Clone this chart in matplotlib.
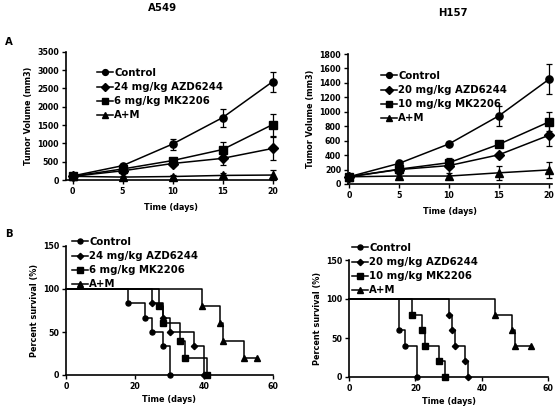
import matplotlib
matplotlib.use("Agg")
import matplotlib.pyplot as plt
from matplotlib.lines import Line2D

plt.rcParams['font.family'] = ['DejaVu Sans']
plt.rcParams['font.weight'] = 'bold'

# ---------------- Data ----------------
days = [0, 5, 10, 15, 20]

# A549 tumor volume
a549_labels = ['Control', '24 mg/kg AZD6244', '6 mg/kg MK2206', 'A+M']
a549_control = [110, 390, 980, 1700, 2680]
a549_control_err = [20, 50, 150, 250, 270]
a549_azd = [100, 250, 450, 590, 860]
a549_azd_err = [15, 30, 60, 180, 320]
a549_mk = [100, 300, 530, 830, 1510]
a549_mk_err = [15, 40, 70, 200, 300]
a549_am = [100, 80, 95, 125, 135]
a549_am_err = [10, 20, 40, 60, 140]

# H157 tumor volume
h157_labels = ['Control', '20 mg/kg AZD6244', '10 mg/kg MK2206', 'A+M']
h157_control = [100, 285, 555, 945, 1450]
h157_control_err = [15, 25, 30, 140, 210]
h157_azd = [100, 200, 255, 405, 675]
h157_azd_err = [10, 20, 30, 30, 150]
h157_mk = [100, 205, 295, 550, 860]
h157_mk_err = [10, 20, 70, 30, 130]
h157_am = [100, 110, 110, 155, 195]
h157_am_err = [10, 30, 40, 95, 110]

# A549 survival (times of drops, survival after drop)
a549_surv_control_t = [0, 18, 23, 25, 28, 30]
a549_surv_control_s = [100, 83.3, 66.7, 50, 33.3, 0]
a549_surv_azd_t = [0, 25, 28, 30, 37, 40]
a549_surv_azd_s = [100, 83.3, 66.7, 50, 33.3, 0]
a549_surv_mk_t = [0, 27, 28, 33, 34.5, 41]
a549_surv_mk_s = [100, 80, 60, 40, 20, 0]
a549_surv_am_t = [0, 39.5, 44.5, 45.5, 51.5, 55.5]
a549_surv_am_s = [100, 80, 60, 40, 20, 20]

# H157 survival
h157_surv_control_t = [0, 15, 17, 20.5]
h157_surv_control_s = [100, 60, 40, 0]
h157_surv_azd_t = [0, 30, 31, 32, 35, 36]
h157_surv_azd_s = [100, 80, 60, 40, 20, 0]
h157_surv_mk_t = [0, 19, 22, 23, 27, 29]
h157_surv_mk_s = [100, 80, 60, 40, 20, 0]
h157_surv_am_t = [0, 44, 49, 50, 55]
h157_surv_am_s = [100, 80, 60, 40, 40]

markers = ['o', 'D', 's', '^']
msizes_top = [5.2, 4.6, 5.2, 5.2]
msizes_surv = [3.6, 3.2, 3.8, 3.8]

FS_TICK = 5.7
FS_LAB = 5.9
FS_LEG = 7.3
LW = 1.1

fig = plt.figure(figsize=(5.58, 4.08), dpi=100)
W, H = 558.0, 408.0


def axes_px(x0, x1, ytop, ybot):
    return fig.add_axes([x0 / W, (H - ybot) / H, (x1 - x0) / W, (ybot - ytop) / H])


def style(ax):
    for s in ['top', 'right']:
        ax.spines[s].set_visible(False)
    for s in ['left', 'bottom']:
        ax.spines[s].set_linewidth(1.2)
    ax.tick_params(direction='out', length=3, width=1.0, labelsize=FS_TICK, pad=2)
    for lab in ax.get_xticklabels() + ax.get_yticklabels():
        lab.set_fontweight('bold')


def legend(ax, labels, ms, x, y):
    handles = [Line2D([0], [0], color='black', lw=LW, marker=m, markersize=s)
               for m, s in zip(markers, ms)]
    ax.legend(handles, labels, loc='upper left', bbox_to_anchor=(x / W, 1 - y / H),
              bbox_transform=fig.transFigure, frameon=False,
              handlelength=1.6, handletextpad=0.12, labelspacing=0.4,
              borderpad=0, borderaxespad=0, prop={'weight': 'bold', 'size': FS_LEG})


def tumor(ax, series, errs, labels, ylim, yticks, xlim):
    for vals, err, m, s in zip(series, errs, markers, msizes_top):
        ax.errorbar(days, vals, yerr=err, color='black', lw=LW, marker=m,
                    markersize=s, capsize=2.5, elinewidth=0.9, capthick=0.9,
                    clip_on=False)
    ax.set_xlim(*xlim)
    ax.set_ylim(*ylim)
    ax.set_yticks(yticks)
    ax.set_xticks(days)
    style(ax)


def survival(ax, ts, ss):
    for t, s, m, ms in zip(ts, ss, markers, msizes_surv):
        ax.step(t, s, where='post', color='black', lw=LW, clip_on=False)
        ax.plot(t[1:], s[1:], linestyle='none', marker=m, markersize=ms,
                color='black', clip_on=False)
    ax.set_xlim(0, 60)
    ax.set_ylim(0, 150)
    ax.set_xticks([0, 20, 40, 60])
    ax.set_yticks([0, 50, 100, 150])
    style(ax)


# Top-left: A549 tumor volume
ax1 = axes_px(66, 276, 51.7, 180)
tumor(ax1, [a549_control, a549_azd, a549_mk, a549_am],
      [a549_control_err, a549_azd_err, a549_mk_err, a549_am_err],
      a549_labels, (0, 3500), range(0, 3501, 500), (-0.65, 20.35))
legend(ax1, a549_labels, [4.2, 3.8, 4.4, 4.4], 97, 68)

# Top-right: H157 tumor volume
ax2 = axes_px(348, 552, 54, 184)
tumor(ax2, [h157_control, h157_azd, h157_mk, h157_am],
      [h157_control_err, h157_azd_err, h157_mk_err, h157_am_err],
      h157_labels, (0, 1800), range(0, 1801, 200), (-0.1, 20.3))
legend(ax2, h157_labels, [4.2, 3.8, 4.4, 4.4], 381, 71)

# Bottom-left: A549 survival
ax3 = axes_px(66, 273, 246, 375)
survival(ax3, [a549_surv_control_t, a549_surv_azd_t, a549_surv_mk_t, a549_surv_am_t],
         [a549_surv_control_s, a549_surv_azd_s, a549_surv_mk_s, a549_surv_am_s])
legend(ax3, a549_labels, [3.6, 3.2, 3.8, 3.8], 72, 237)

# Bottom-right: H157 survival
ax4 = axes_px(349, 548, 260, 377)
survival(ax4, [h157_surv_control_t, h157_surv_azd_t, h157_surv_mk_t, h157_surv_am_t],
         [h157_surv_control_s, h157_surv_azd_s, h157_surv_mk_s, h157_surv_am_s])
legend(ax4, h157_labels, [3.6, 3.2, 3.8, 3.8], 352, 243)

# Axis labels
for ax in (ax1, ax2):
    ax.set_ylabel('Tumor Volume (mm3)', fontsize=FS_LAB, fontweight='bold', labelpad=3)
    ax.set_xlabel('Time (days)', fontsize=FS_LAB, fontweight='bold', labelpad=5)
for ax in (ax3, ax4):
    ax.set_ylabel('Percent survival (%)', fontsize=FS_LAB, fontweight='bold', labelpad=3)
    ax.set_xlabel('Time (days)', fontsize=FS_LAB, fontweight='bold', labelpad=3)

# Titles and panel letters
fig.text(163 / W, 1 - 8 / H, 'A549', ha='center', va='center', fontsize=7.3, fontweight='bold')
fig.text(453 / W, 1 - 13 / H, 'H157', ha='center', va='center', fontsize=7.3, fontweight='bold')
fig.text(5 / W, 1 - 42 / H, 'A', ha='left', va='center', fontsize=7.3, fontweight='bold')
fig.text(5 / W, 1 - 234 / H, 'B', ha='left', va='center', fontsize=7.3, fontweight='bold')

fig.savefig('out.png', dpi=100)
